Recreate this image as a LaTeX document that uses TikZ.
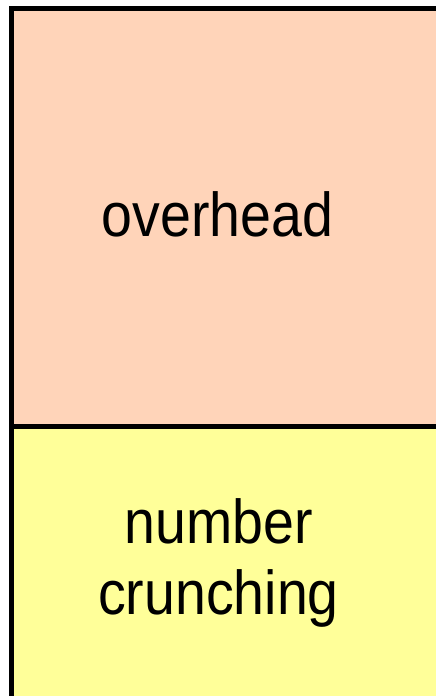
\documentclass[tikz,border=0pt]{standalone}
\usepackage{fontspec}
\usepackage{graphicx}
\setmainfont{Liberation Sans}
\definecolor{peach}{RGB}{255,212,185}
\definecolor{paleyellow}{RGB}{255,255,153}
\tikzset{
  region/.style={draw=black, line width=5pt},
  label/.style={inner sep=0pt, font=\fontsize{62pt}{71pt}\selectfont, anchor=base}
}
\begin{document}
\begin{tikzpicture}[x=1pt,y=1pt]
\useasboundingbox (0,0) rectangle (436,-696);
\clip (0,0) rectangle (436,-696);
\draw[region, fill=peach] (11.5,-8.5) rectangle (460,-426);
\draw[region, fill=paleyellow] (11.5,-426) rectangle (460,-720);
\node[label] (over) at (217.5,-236) {\scalebox{0.895}[1]{overhead}};
\node[label] (crunch) at (218.5,-614) {\scalebox{0.895}[1]{\begin{tabular}[b]{@{}c@{}}number\\crunching\end{tabular}}};
\end{tikzpicture}
\end{document}
